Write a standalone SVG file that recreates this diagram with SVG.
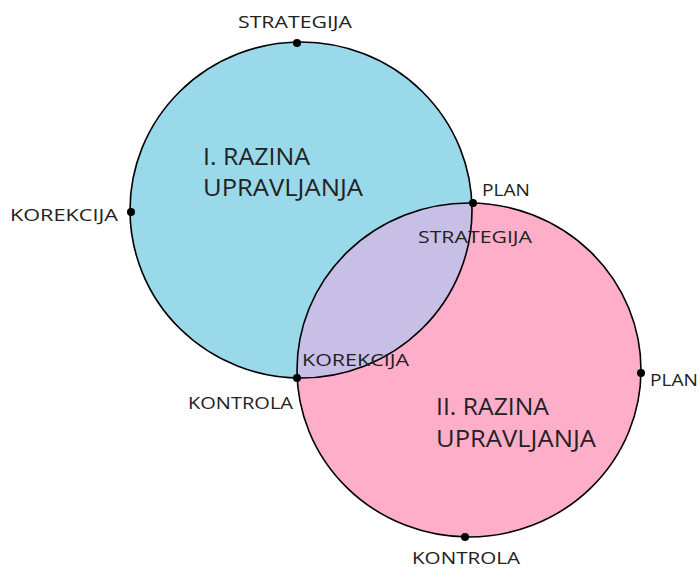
<svg xmlns="http://www.w3.org/2000/svg" width="700" height="568" viewBox="0 0 700 568">
<style>
.lbl{font-family:"Open Sans","Liberation Sans",sans-serif;font-size:17px;font-weight:500;fill:#222}
.big{font-family:"Open Sans","Liberation Sans",sans-serif;font-size:23px;font-weight:500;fill:#222}
.ring{fill:none;stroke:#000;stroke-width:1.6}
.dot{fill:#000}
</style>
<defs>
<clipPath id="c1"><ellipse cx="301" cy="210" rx="171" ry="168"/></clipPath>
</defs>
<rect width="700" height="568" fill="#fff"/>
<g id="level1">
<ellipse cx="301" cy="210" rx="171" ry="168" fill="#99D9EA"/>
</g>
<g id="level2">
<ellipse cx="469" cy="370" rx="172" ry="167" fill="#FFAEC9"/>
</g>
<g id="overlap">
<ellipse cx="469" cy="370" rx="172" ry="167" fill="#C8BFE7" clip-path="url(#c1)"/>
</g>
<g id="connectors">
<ellipse class="ring" cx="301" cy="210" rx="171" ry="168"/>
<ellipse class="ring" cx="469" cy="370" rx="172" ry="167"/>
<circle class="dot" cx="297" cy="43" r="4"/>
<circle class="dot" cx="131" cy="212" r="4"/>
<circle class="dot" cx="473" cy="203" r="4"/>
<circle class="dot" cx="297" cy="378" r="4"/>
<circle class="dot" cx="641" cy="373" r="4"/>
<circle class="dot" cx="465" cy="537" r="4"/>
</g>
<g id="labels">
<text class="lbl" x="238" y="28" textLength="114" lengthAdjust="spacingAndGlyphs">STRATEGIJA</text>
<text class="lbl" x="10" y="221" textLength="108" lengthAdjust="spacingAndGlyphs">KOREKCIJA</text>
<text class="lbl" x="482" y="196" textLength="48" lengthAdjust="spacingAndGlyphs">PLAN</text>
<text class="lbl" x="418" y="243" textLength="114" lengthAdjust="spacingAndGlyphs">STRATEGIJA</text>
<text class="lbl" x="302" y="366" textLength="107" lengthAdjust="spacingAndGlyphs">KOREKCIJA</text>
<text class="lbl" x="188" y="409" textLength="105" lengthAdjust="spacingAndGlyphs">KONTROLA</text>
<text class="lbl" x="650" y="386" textLength="48" lengthAdjust="spacingAndGlyphs">PLAN</text>
<text class="lbl" x="412" y="564" textLength="108" lengthAdjust="spacingAndGlyphs">KONTROLA</text>
<text class="big" x="203" y="165" textLength="107" lengthAdjust="spacingAndGlyphs">I. RAZINA</text>
<text class="big" x="203" y="196" textLength="160" lengthAdjust="spacingAndGlyphs">UPRAVLJANJA</text>
<text class="big" x="436" y="415" textLength="113" lengthAdjust="spacingAndGlyphs">II. RAZINA</text>
<text class="big" x="436" y="447" textLength="160" lengthAdjust="spacingAndGlyphs">UPRAVLJANJA</text>
</g>
</svg>
